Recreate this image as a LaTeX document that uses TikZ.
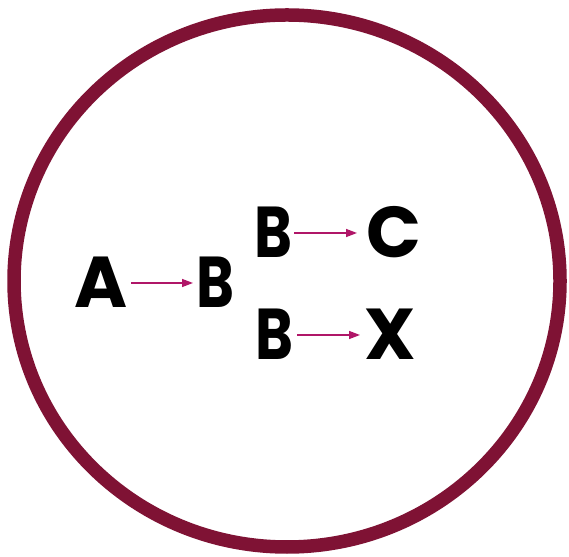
\documentclass[tikz,border=0pt]{standalone}
\usepackage{fontspec}
\setmainfont{Poppins}[BoldFont={* Bold}]
\usetikzlibrary{arrows.meta}
\definecolor{ringred}{RGB}{127,18,52}
\definecolor{arrowpink}{RGB}{176,22,104}
\newcommand{\narrowB}{\scalebox{0.8}[1]{B}}
\begin{document}
\begin{tikzpicture}[x=1pt,y=1pt,
  letter/.style={inner sep=0pt, text height=50pt, text depth=0pt, font=\fontsize{72}{72}\selectfont\bfseries, anchor=center},
  arr/.style={draw=arrowpink, line width=1.4pt, -{Triangle[length=11pt,width=8pt]}}]
\useasboundingbox (0,0) rectangle (569,556);
\draw[ringred, line width=13.5pt] (287,275) ellipse [x radius=273, y radius=266];
\node[letter] (A)  at (101.5,273) {A};
\node[letter] (B1) at (215.5,273) {\narrowB};
\node[letter] (B2) at (273,323) {\narrowB};
\node[letter] (C)  at (394,323) {C};
\node[letter] (B3) at (274.5,221) {\narrowB};
\node[letter] (X)  at (390,221) {X};
\draw[arr, shorten <=29.5pt, shorten >=22.5pt] (A.center) -- (B1.center);
\draw[arr, shorten <=21pt, shorten >=37pt] (B2.center) -- (C.center);
\draw[arr, shorten <=22.5pt, shorten >=30pt] (B3.center) -- (X.center);
\end{tikzpicture}
\end{document}
